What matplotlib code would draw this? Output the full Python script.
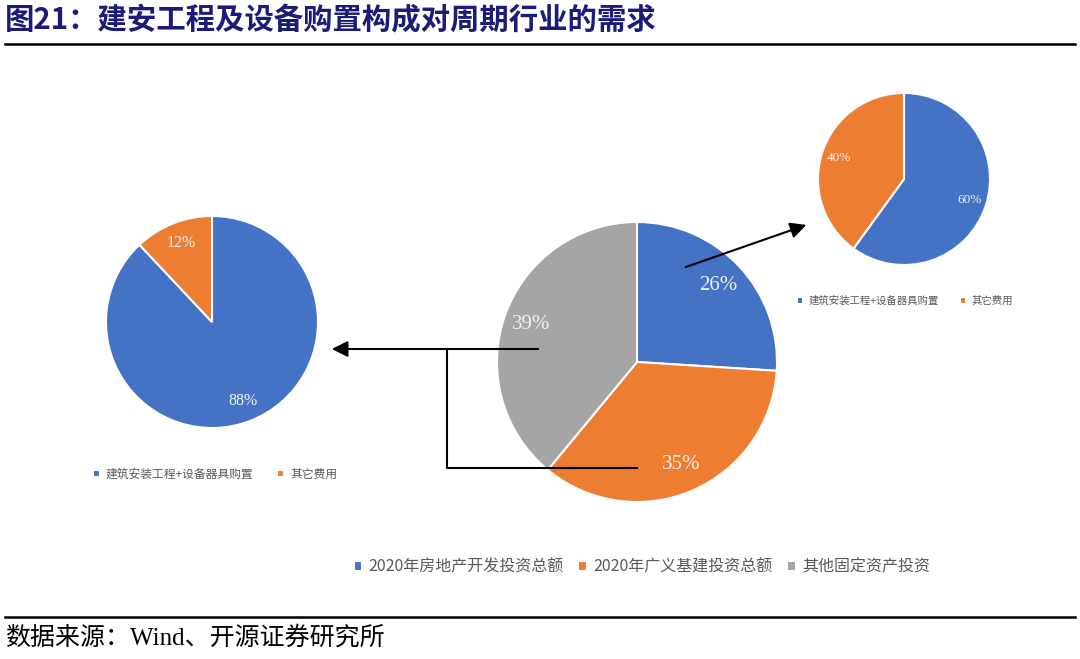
import matplotlib.pyplot as plt

plt.rcParams['font.family'] = ['Noto Sans CJK SC', 'DejaVu Sans']

W, H = 1080, 659

# data
main_labels = ['2020年房地产开发投资总额', '2020年广义基建投资总额', '其他固定资产投资']
main_values = [26, 35, 39]
left_labels = ['建筑安装工程+设备器具购置', '其它费用']
left_values = [88, 12]
right_labels = ['建筑安装工程+设备器具购置', '其它费用']
right_values = [60, 40]

title = '图21：建安工程及设备购置构成对周期行业的需求'
source = '数据来源：Wind、开源证券研究所'

blue, orange, gray = '#4472C4', '#ED7D31', '#A5A5A5'
label_color = '#F2F2F2'
legend_color = '#595959'


def pie_axes(fig, cx, cy, r):
    # square axes placed by pixel centre / radius
    ax = fig.add_axes([(cx - r) / W, (H - cy - r) / H, 2 * r / W, 2 * r / H])
    ax.axis('off')
    return ax


def draw_pie(ax, values, colors, fontsize):
    wedges, _, _ = ax.pie(values, colors=colors, startangle=90, counterclock=False,
                          radius=1, autopct=lambda p: f'{p:.0f}%', pctdistance=0.8,
                          wedgeprops=dict(edgecolor='white', linewidth=1.5),
                          textprops=dict(color=label_color, fontsize=fontsize,
                                         family=['Liberation Serif', 'DejaVu Serif']))
    ax.set_xlim(-1, 1)
    ax.set_ylim(-1, 1)
    return wedges


fig = plt.figure(figsize=(W / 100, H / 100), dpi=100)

# main pie
ax_main = pie_axes(fig, 637, 362, 140)
w_main = draw_pie(ax_main, main_values, [blue, orange, gray], 15)
fig.legend(w_main, main_labels, loc='center', bbox_to_anchor=(642 / W, 1 - 567 / H),
           ncol=3, frameon=False, fontsize=11.5, labelcolor=legend_color,
           handlelength=0.55, handleheight=0.55, handletextpad=0.4, columnspacing=0.9)

# left pie
ax_left = pie_axes(fig, 212, 322, 106)
w_left = draw_pie(ax_left, left_values, [blue, orange], 11.5)
fig.legend(w_left, left_labels, loc='center', bbox_to_anchor=(215 / W, 1 - 474 / H),
           ncol=2, frameon=False, fontsize=8.5, labelcolor=legend_color,
           handlelength=0.6, handleheight=0.6, handletextpad=0.5, columnspacing=2.0)

# right pie
ax_right = pie_axes(fig, 904, 179, 86)
w_right = draw_pie(ax_right, right_values, [blue, orange], 9.5)
fig.legend(w_right, right_labels, loc='center', bbox_to_anchor=(905 / W, 1 - 301 / H),
           ncol=2, frameon=False, fontsize=7.5, labelcolor=legend_color,
           handlelength=0.6, handleheight=0.6, handletextpad=0.5, columnspacing=2.0)

# overlay for title, rules and arrows in pixel coords (on top of the pies)
ov = fig.add_axes([0, 0, 1, 1])
ov.set_zorder(10)
ov.set_xlim(0, W)
ov.set_ylim(H, 0)
ov.axis('off')

ov.text(5, 20, title, fontsize=21.2, fontweight='bold', color='#1B1B78', va='center', ha='left')
ov.plot([5, 1075], [44, 44], color='black', lw=1.8)
ov.plot([5, 1075], [617, 617], color='black', lw=1.8)
ov.text(5, 638, source, fontsize=18, color='black', va='center', ha='left',
        family=['Liberation Serif', 'Noto Sans CJK SC'])

# connector lines and arrows
ov.annotate('', xy=(329, 349), xytext=(541, 349),
            arrowprops=dict(arrowstyle='-|>', color='black', lw=1.5, mutation_scale=24))
ov.plot([447, 447, 637], [349, 468, 468], color='black', lw=1.5)
ov.annotate('', xy=(809, 224), xytext=(683, 268),
            arrowprops=dict(arrowstyle='-|>', color='black', lw=1.5, mutation_scale=24))

fig.savefig('out.png', dpi=100)
